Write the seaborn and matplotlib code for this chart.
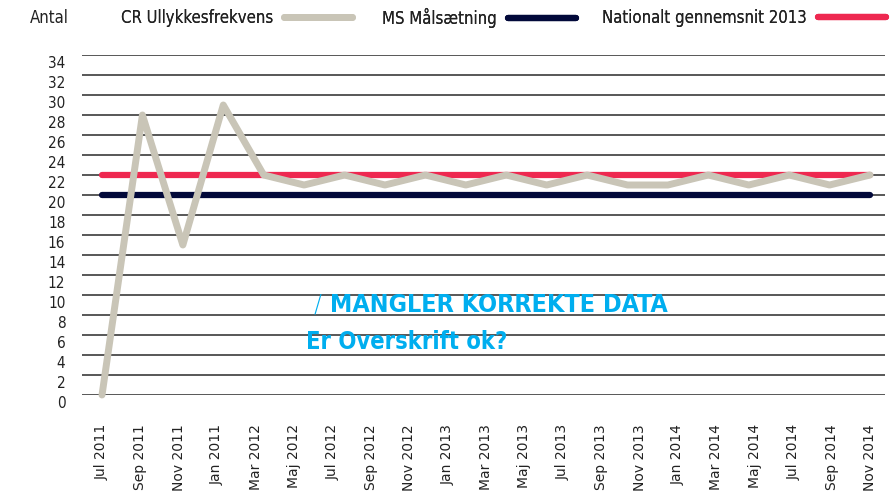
import numpy as np
import pandas as pd
import matplotlib
matplotlib.use('Agg')
import matplotlib.pyplot as plt
import matplotlib.transforms as mtransforms
import seaborn as sns

# data
months = ['Jul 2011', 'Sep 2011', 'Nov 2011', 'Jan 2011', 'Mar 2012', 'Maj 2012',
          'Jul 2012', 'Sep 2012', 'Nov 2012', 'Jan 2013', 'Mar 2013', 'Maj 2013',
          'Jul 2013', 'Sep 2013', 'Nov 2013', 'Jan 2014', 'Mar 2014', 'Maj 2014',
          'Jul 2014', 'Sep 2014', 'Nov 2014']
cr_values = [0, 28, 15, 29, 22, 21, 22, 21, 22, 21, 22, 21, 22, 21, 21, 22, 21, 22, 21, 22]
ms_values = [20, 20, 20, 20, 20, 20, 20, 20, 20, 20, 20, 20, 20, 20, 20, 20, 20, 20, 20, 20]
national_values = [22, 22, 22, 22, 22, 22, 22, 22, 22, 22, 22, 22, 22, 22, 22, 22, 22, 22, 22, 22]
y_ticks = list(range(0, 35, 2))

series_names = ['Nationalt gennemsnit 2013', 'MS Målsætning', 'CR Ullykkesfrekvens']
colors = {'CR Ullykkesfrekvens': '#c9c5b7',
          'MS Målsætning': '#02093a',
          'Nationalt gennemsnit 2013': '#ee2850'}

sns.set_theme(style='white')
plt.rcParams['font.family'] = ['DejaVu Sans']

fig = plt.figure(figsize=(8.95, 4.96), dpi=100)
ax = fig.add_axes([82/895, 101/496, 803/895, 340/496])

# category axis with the 21 month labels
ax.set_xlim(-0.52, 20.39)
ax.set_xticks(range(len(months)))
ax.set_xticklabels(months, rotation=90, va='top', ha='center', fontsize=10, color='#222222')
ax.set_ylim(0, 34)
ax.set_yticks(y_ticks)
ax.set_yticklabels([str(v) for v in y_ticks], fontsize=11, color='#222222',
                   fontstretch='condensed')
ax.tick_params(axis='x', length=0, pad=21)
ax.tick_params(axis='y', length=0, pad=12)
ax.grid(axis='y', color='#4a4a4a', linewidth=1.3)
ax.set_axisbelow(True)
for s in ax.spines.values():
    s.set_visible(False)
offset = mtransforms.ScaledTranslation(0, -0.07, fig.dpi_scale_trans)
for lab in ax.get_yticklabels():
    lab.set_transform(lab.get_transform() + offset)

# series drawn on their own index scale (20 points across the same span)
ax2 = ax.twiny()
n = len(cr_values)
df = pd.DataFrame({
    'idx': list(range(n)) * 3,
    'value': national_values + ms_values + cr_values,
    'serie': [series_names[0]] * n + [series_names[1]] * n + [series_names[2]] * n,
})
for name in series_names:
    sub = df[df['serie'] == name]
    lw = 5.0 if name == 'CR Ullykkesfrekvens' else 4.5
    sns.lineplot(data=sub, x='idx', y='value', color=colors[name], linewidth=lw,
                 sort=False, ax=ax2, label=name, legend=False,
                 solid_capstyle='round', solid_joinstyle='round', clip_on=False)
ax2.set_xlim(-0.495, 19.37)
ax2.set_ylim(0, 34)
ax2.set_xticks([])
ax2.set_xlabel('')
ax2.set_ylabel('')
for s in ax2.spines.values():
    s.set_visible(False)

# legend row at the top: one small legend per series, text before the swatch
handles, labels = ax2.get_legend_handles_labels()
lookup = dict(zip(labels, handles))
legend_right = {'CR Ullykkesfrekvens': 352, 'MS Målsætning': 576,
                'Nationalt gennemsnit 2013': 886}
for name in ['CR Ullykkesfrekvens', 'MS Målsætning', 'Nationalt gennemsnit 2013']:
    leg = fig.legend([lookup[name]], [name], loc='center right',
                     bbox_to_anchor=(legend_right[name]/895, 1 - 18/496),
                     frameon=False, markerfirst=False, handlelength=4.1,
                     handletextpad=0.65, borderpad=0, borderaxespad=0,
                     prop={'size': 12, 'stretch': 'condensed'})
    for t in leg.get_texts():
        t.set_color('#222222')
    fig.add_artist(leg)
fig.text(30/895, 1 - 18/496, 'Antal', fontsize=12, va='center', color='#222222',
         fontstretch='condensed')

# overlay notes
blue = '#00aeef'
ax.text(0.288, 0.265, '/', transform=ax.transAxes, fontsize=17, color=blue,
        va='center', ha='left', fontweight='light')
ax.text(0.309, 0.265, 'MANGLER KORREKTE DATA', transform=ax.transAxes, fontsize=18,
        fontweight='bold', color=blue, va='center', ha='left', fontstretch='condensed')
ax.text(0.279, 0.156, 'Er Overskrift ok?', transform=ax.transAxes, fontsize=17,
        fontweight='bold', color=blue, va='center', ha='left', fontstretch='condensed')

fig.savefig('out.png', dpi=100)
